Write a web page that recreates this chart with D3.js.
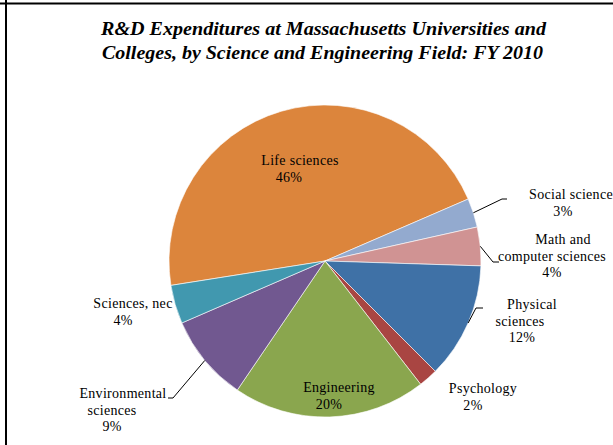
<!DOCTYPE html>
<html>
<head>
<meta charset="utf-8">
<script src="https://cdn.jsdelivr.net/npm/d3@7"></script>
<style>
  body { margin: 0; background: #fff; }
  text { font-family: "Liberation Serif", "Times New Roman", serif; }
</style>
</head>
<body>
<div id="chart"></div>
<script>
(function() {
  var width = 613,
      height = 445;

  // data, in drawing order (clockwise)
  var fields = ["Life sciences", "Social science", "Math and computer sciences", "Physical sciences",
                "Psychology", "Engineering", "Environmental sciences", "Sciences, nec"];
  var shares = [46, 3, 4, 12, 2, 20, 9, 4];
  var labelLines = [
    ["Life  sciences", "46%"],
    ["Social science", "3%"],
    ["Math and", "computer sciences", "4%"],
    ["Physical", "sciences", "12%"],
    ["Psychology", "2%"],
    ["Engineering", "20%"],
    ["Environmental", "sciences", "9%"],
    ["Sciences, nec", "4%"]
  ];
  var colors = ["#DC853C", "#93AACF", "#D09393", "#3F71A6", "#A94542", "#8AA64E", "#715890", "#4198AF"];

  // label placement relative to pie centre (x per line, first baseline)
  var labelSpots = [
    { xs: [-25, -36], y: -96 },
    { xs: [246, 238], y: -62 },
    { xs: [238, 227, 227], y: -17 },
    { xs: [207, 195, 197], y: 48 },
    { xs: [158, 148], y: 132 },
    { xs: [14, 4], y: 131 },
    { xs: [-202, -213, -213], y: 137 },
    { xs: [-192, -202], y: 47 }
  ];
  // leader elbows (relative to centre) for outside labels, and horizontal tail
  var leaders = [null, [177, -62, 5], [168, 1, 6], [151, 47, 7], null, null, [-152, 137, -5], null];

  var cx = 325, cy = 261, r = 156;

  var svg = d3.select("#chart")
    .append("svg")
    .attr("width", width)
    .attr("height", height);

  svg.append("rect")
    .attr("width", width)
    .attr("height", height)
    .attr("fill", "#fff");

  // frame lines
  svg.append("line")
    .attr("x1", 0).attr("x2", width)
    .attr("y1", 3.5).attr("y2", 3.5)
    .attr("stroke", "#000").attr("stroke-width", 2);
  svg.append("line")
    .attr("x1", 6).attr("x2", 6)
    .attr("y1", 0).attr("y2", height)
    .attr("stroke", "#000").attr("stroke-width", 2);

  // title
  var title = svg.append("text")
    .attr("text-anchor", "middle")
    .style("font-size", "18px")
    .style("font-weight", "bold")
    .style("font-style", "italic");
  title.append("tspan")
    .attr("x", 323.5).attr("y", 35)
    .attr("textLength", 445).attr("lengthAdjust", "spacingAndGlyphs")
    .text("R&D Expenditures at Massachusetts Universities and");
  title.append("tspan")
    .attr("x", 322.5).attr("y", 59)
    .attr("textLength", 441).attr("lengthAdjust", "spacingAndGlyphs")
    .text("Colleges, by Science and Engineering Field: FY 2010");

  var data = fields.map(function(f, i) {
    return { field: f, share: shares[i], lines: labelLines[i], color: colors[i], spot: labelSpots[i], leader: leaders[i] };
  });

  var pie = d3.pie()
    .sort(null)
    .value(function(d) { return d.share; })
    .startAngle(-99 * Math.PI / 180)
    .endAngle(261 * Math.PI / 180);

  var arc = d3.arc().innerRadius(0).outerRadius(r);

  var g = svg.append("g")
    .attr("transform", "translate(" + cx + "," + cy + ")");

  var arcs = pie(data);

  g.selectAll(".slice")
    .data(arcs)
    .enter().append("path")
    .attr("class", "slice")
    .attr("d", arc)
    .attr("fill", function(d) { return d.data.color; })
    .attr("stroke", "#fff")
    .attr("stroke-width", 0.6);

  // leader lines
  g.selectAll(".leader")
    .data(arcs.filter(function(d) { return d.data.leader; }))
    .enter().append("polyline")
    .attr("class", "leader")
    .attr("fill", "none")
    .attr("stroke", "#000")
    .attr("stroke-width", 1)
    .attr("points", function(d) {
      var a = (d.startAngle + d.endAngle) / 2,
          L = d.data.leader;
      var p0 = [Math.sin(a) * r, -Math.cos(a) * r];
      return [p0, [L[0], L[1]], [L[0] + L[2], L[1]]].map(function(p) { return p.join(","); }).join(" ");
    });

  // labels
  var labels = g.selectAll(".label")
    .data(arcs)
    .enter().append("text")
    .attr("class", "label")
    .attr("text-anchor", "middle")
    .style("font-size", "14px")
    .style("letter-spacing", "0.3px")
    .attr("fill", "#000");

  labels.each(function(d) {
    var t = d3.select(this);
    d.data.lines.forEach(function(line, i) {
      t.append("tspan")
        .attr("x", d.data.spot.xs[i])
        .attr("y", d.data.spot.y + i * 16.5)
        .text(line);
    });
  });
})();
</script>
</body>
</html>
